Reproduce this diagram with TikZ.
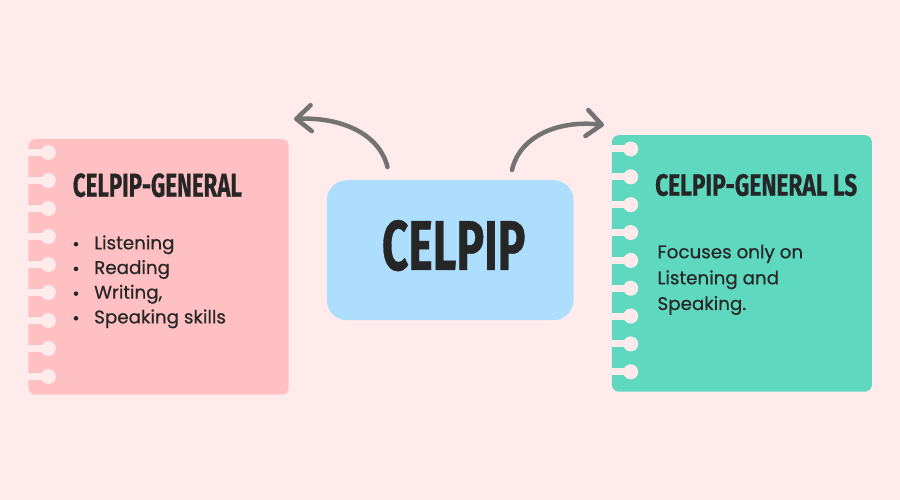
\documentclass[tikz,border=0pt]{standalone}
\usepackage{fontspec}
\usepackage{graphicx}
\setmainfont{Poppins}[FakeBold=0.5]
\newfontfamily\titlefont{Fira Sans}[FakeBold=0.6]
\usetikzlibrary{arrows.meta}
\definecolor{bgc}{HTML}{FFEBEB}
\definecolor{pinkc}{HTML}{FFC0C4}
\definecolor{tealc}{HTML}{5FD8C0}
\definecolor{bluec}{HTML}{ADDEFE}
\definecolor{grayc}{HTML}{737373}
\definecolor{textc}{HTML}{262626}
\tikzset{
  card/.style={rounded corners=7bp, minimum width=#1, anchor=north west, inner sep=0},
  txt/.style={anchor=base west, inner sep=0, text=textc, font=\fontsize{18.3bp}{20bp}\selectfont},
  ttl/.style={anchor=base west, inner sep=0, text=textc},
  arr/.style={draw=grayc, line width=4.5bp, line cap=round, -{Straight Barb[length=15bp,width=26bp,round]}},
}
\begin{document}
\begin{tikzpicture}[x=1bp,y=-1bp]
\fill[bgc] (0,0) rectangle (900,500);
\useasboundingbox (0,0) rectangle (900,500);

% left card
\node[card=260.2bp, fill=pinkc, minimum height=255.5bp] (gen) at (28.3,139) {};
\foreach \i in {0,...,8}{
  \fill[bgc] (27,{152.5+28*\i-3.5}) rectangle (48.3,{152.5+28*\i+3.5});
  \fill[bgc] (48.3,{152.5+28*\i}) circle (7.5bp);
}
% right card
\node[card=260bp, fill=tealc, minimum height=256.5bp] (ls) at (611.7,135) {};
\foreach \i in {0,...,8}{
  \fill[bgc] (610.5,{149+27.85*\i-3.5}) rectangle (630.7,{149+27.85*\i+3.5});
  \fill[bgc] (630.7,{149+27.85*\i}) circle (7.5bp);
}
% center box
\node[rounded corners=20bp, fill=bluec, minimum width=246.6bp, minimum height=140bp, anchor=north west, inner sep=0] (mid) at (326.7,180) {};

% titles
\node[ttl] (t1) at (72.7,196.7) {\resizebox{169bp}{23.5bp}{\titlefont\bfseries CELPIP-GENERAL}};
\node[ttl] (t2) at (655,195.7) {\resizebox{202bp}{21.8bp}{\titlefont\bfseries CELPIP-GENERAL LS}};
\node[ttl] (t0) at (381.7,270) {\resizebox{143.5bp}{50bp}{\titlefont\bfseries CELPIP}};

% list
\foreach \w [count=\i from 0] in {Listening,Reading,{Writing,},Speaking skills}{
  \fill[textc] (76,{244.2+24.7*\i}) circle (2.3bp);
  \node[txt] (item\i) at (94,{249.3+24.7*\i}) {\w};
}
% right text
\node[txt] (r1) at (657.3,258.3) {Focuses only on};
\node[txt] (r2) at (657.3,284.3) {Listening and};
\node[txt] (r3) at (657.3,310) {Speaking.};

% arrows
\coordinate (a1s) at (387.5,167);
\coordinate (a1e) at (294,119);
\coordinate (a2s) at (512,170);
\coordinate (a2e) at (604,125);
\draw[arr] (a1s) .. controls (378,130) and (335,117) .. (a1e);
\draw[arr] (a2s) .. controls (520,135) and (560,120) .. (a2e);
\end{tikzpicture}
\end{document}
